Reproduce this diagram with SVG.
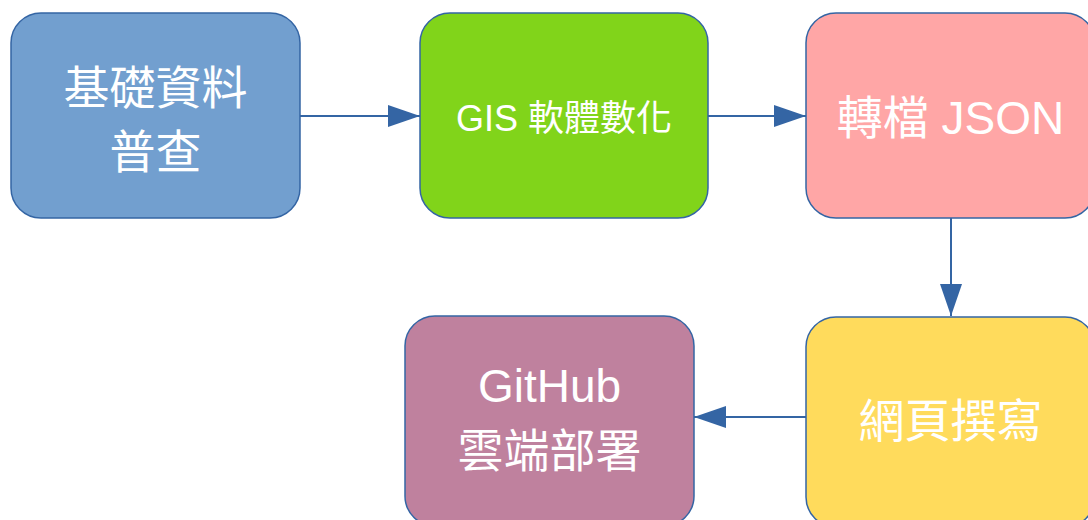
<svg xmlns="http://www.w3.org/2000/svg" width="1088" height="520" viewBox="0 0 1088 520">
<style>
.box{stroke:#3465a4;stroke-width:1.5}
.t{fill:#ffffff;font-family:"Liberation Sans","Noto Sans CJK TC",sans-serif;text-anchor:middle}
.c{fill:none;stroke:#3465a4;stroke-width:2}
</style>
<defs>
<marker id="ah" viewBox="0 0 32 22" refX="32" refY="11" markerWidth="32" markerHeight="22" markerUnits="userSpaceOnUse" orient="auto">
<path d="M0,0 L32,11 L0,22 z" fill="#3465a4"/>
</marker>
</defs>
<rect width="1088" height="520" fill="#ffffff"/>
<g id="connectors">
<path class="c" d="M300,116 L420,116" marker-end="url(#ah)"/>
<path class="c" d="M708,116 L806,116" marker-end="url(#ah)"/>
<path class="c" d="M951,218 L951,316" marker-end="url(#ah)"/>
<path class="c" d="M806,417 L694,417" marker-end="url(#ah)"/>
</g>
<g id="n1">
<rect class="box" x="11" y="13" width="289" height="205" rx="30" fill="#729fcf"/>
<text class="t" x="155.5" y="104" font-size="46">基礎資料</text>
<text class="t" x="155.5" y="168" font-size="46">普查</text>
</g>
<g id="n2">
<rect class="box" x="420" y="13" width="288" height="205" rx="30" fill="#81d41a"/>
<text class="t" x="564" y="131" font-size="36">GIS 軟體數化</text>
</g>
<g id="n3">
<rect class="box" x="806" y="13" width="289" height="205" rx="30" fill="#ffa6a6"/>
<text class="t" x="950.5" y="134" font-size="46">轉檔 JSON</text>
</g>
<g id="n4">
<rect class="box" x="806" y="317" width="289" height="210" rx="30" fill="#ffdb5c"/>
<text class="t" x="950.5" y="437" font-size="46">網頁撰寫</text>
</g>
<g id="n5">
<rect class="box" x="405" y="316" width="289" height="210" rx="30" fill="#bf819e"/>
<text class="t" x="549.5" y="402" font-size="46">GitHub</text>
<text class="t" x="549.5" y="467" font-size="46">雲端部署</text>
</g>
</svg>
